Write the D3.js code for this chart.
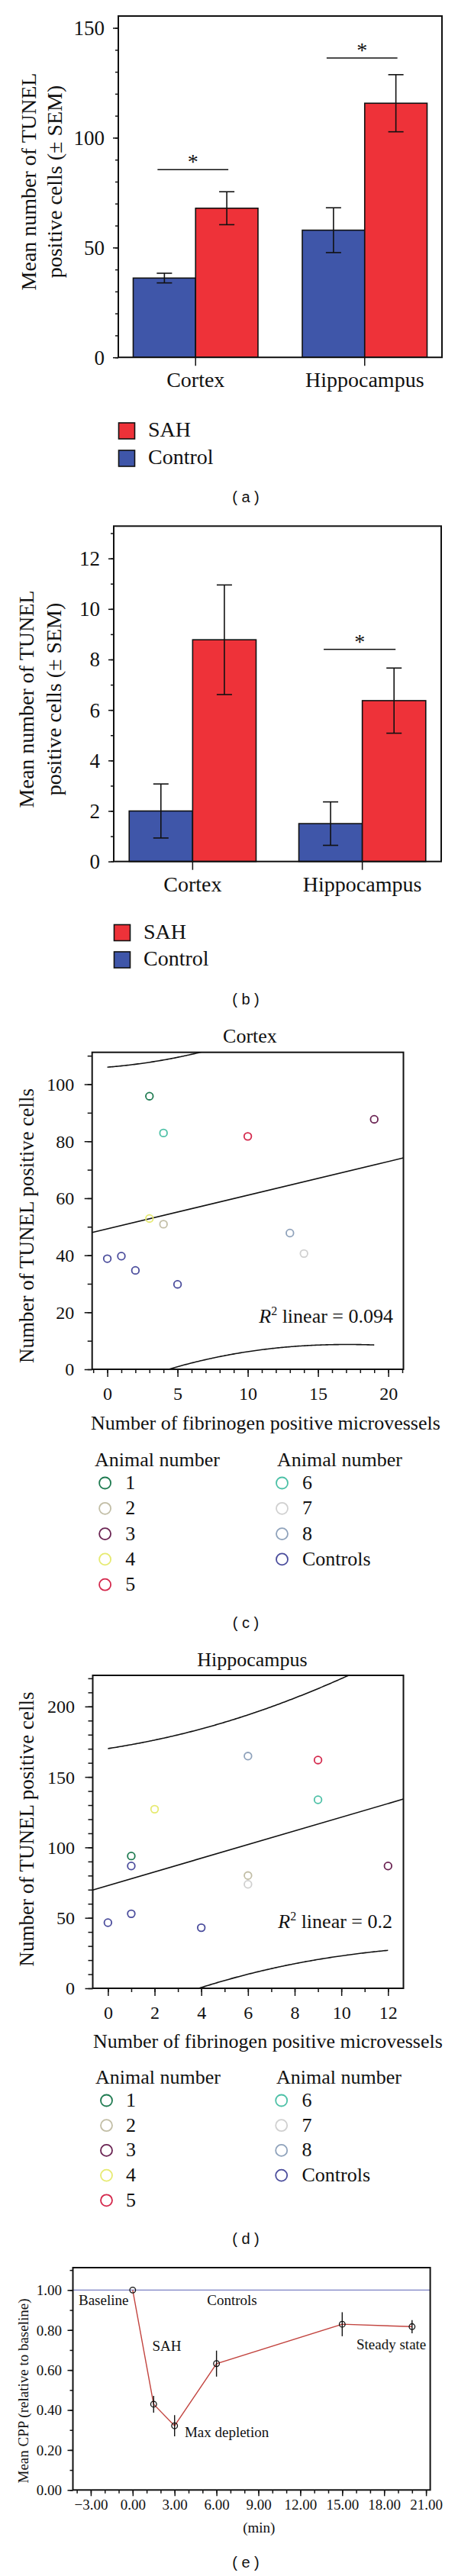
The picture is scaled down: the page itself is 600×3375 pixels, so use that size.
<!DOCTYPE html>
<html><head><meta charset="utf-8">
<script src="https://cdn.jsdelivr.net/npm/d3@7"></script>
<style>
body{margin:0;background:#fff}
svg{display:block}
text{font-family:"Liberation Serif","Times New Roman",serif;fill:#111}
</style>
</head><body>
<svg id="fig" width="600" height="3375"></svg>
<script>
// ---------- DATA ----------
const barCategories = ["Cortex", "Hippocampus"];
const barSeries = ["Control", "SAH"];
const legendLabels = ["SAH", "Control"];
// panel (a)
const aControl = [36.1, 57.9];
const aControlErr = [2.2, 10.2];
const aSAH = [67.9, 115.7];
const aSAHErr = [7.5, 13.0];
const aSig = [85.5, 136.3];
const aYTicks = [0, 50, 100, 150];
// panel (b)
const bControl = [2.0, 1.5];
const bControlErr = [1.07, 0.86];
const bSAH = [8.78, 6.37];
const bSAHErr = [2.17, 1.29];
const bSig = [null, 8.4];
const bYTicks = [0, 2, 4, 6, 8, 10, 12];
// panels (c),(d)
const animalLabels = ["1", "2", "3", "4", "5", "6", "7", "8", "Controls"];
const animalColors = ["#1e7a50", "#c2bea6", "#6a2352", "#e6ea70", "#d4284c", "#4cc0a6", "#d0d0d0", "#8fa2bb", "#4a4c9c"];
const cAnimal = ["1", "2", "3", "4", "5", "6", "7", "8", "Controls", "Controls", "Controls", "Controls"];
const cX = [3, 4, 19, 3, 10, 4, 14, 13, 0, 1, 2, 5];
const cY = [95.8, 50.9, 87.7, 52.9, 81.7, 82.9, 40.6, 47.8, 38.8, 39.7, 34.7, 29.8];
const cXTicks = [0, 5, 10, 15, 20];
const cYTicks = [0, 20, 40, 60, 80, 100];
const cR2 = "0.094";
const dAnimal = ["1", "2", "3", "4", "5", "6", "7", "8", "Controls", "Controls", "Controls", "Controls"];
const dX = [1, 6, 12, 2, 9, 9, 6, 6, 0, 1, 4, 1];
const dY = [93.9, 80.0, 86.8, 127.1, 162.0, 133.8, 73.8, 164.8, 46.6, 52.9, 43.0, 86.8];
const dXTicks = [0, 2, 4, 6, 8, 10, 12];
const dYTicks = [0, 50, 100, 150, 200];
const dR2 = "0.2";
const tCrit10 = 2.228; // t(0.975, df=10)
// panel (e)
const eTime = [0, 1.5, 3, 6, 15, 20];
const eCPP = [1.0, 0.429, 0.321, 0.632, 0.829, 0.817];
const eErr = [0, 0.042, 0.053, 0.065, 0.06, 0.033];
const eXTicks = [-3, 0, 3, 6, 9, 12, 15, 18, 21];
const eYTicks = [0, 0.2, 0.4, 0.6, 0.8, 1.0];
const eNotes = ["Baseline", "Controls", "SAH", "Max depletion", "Steady state"];
const captions = ["( a )", "( b )", "( c )", "( d )", "( e )"];

// ---------- DRAWING ----------
const svg = d3.select("#fig");
const INK = "#111";
const cControl = "#3f56a9", cSAH = "#ee3239";

function styleAxis(g, fs) {
  g.attr("font-family", null).attr("font-size", null);
  g.select(".domain").remove();
  g.selectAll("line").attr("stroke", INK).attr("stroke-width", 1.5);
  g.selectAll("text").style("font-size", fs + "px").attr("fill", INK);
}
function yAxis(scale, x, ticks, minor, len, mlen, fmt, fs, pad) {
  const gm = svg.append("g").attr("transform", `translate(${x},0)`)
    .call(d3.axisLeft(scale).tickValues(minor).tickSize(mlen).tickFormat(""));
  styleAxis(gm, fs);
  const g = svg.append("g").attr("transform", `translate(${x},0)`)
    .call(d3.axisLeft(scale).tickValues(ticks).tickSize(len).tickPadding(pad).tickFormat(fmt));
  styleAxis(g, fs);
  g.selectAll("text").attr("dy", "0.33em");
}
function xAxis(scale, y, ticks, minor, len, mlen, fmt, fs, pad) {
  if (minor) {
    const gm = svg.append("g").attr("transform", `translate(0,${y})`)
      .call(d3.axisBottom(scale).tickValues(minor).tickSize(mlen).tickFormat(""));
    styleAxis(gm, fs);
  }
  const g = svg.append("g").attr("transform", `translate(0,${y})`)
    .call(d3.axisBottom(scale).tickValues(ticks).tickSize(len).tickPadding(pad).tickFormat(fmt));
  styleAxis(g, fs);
  g.selectAll("text").attr("dy", "0.71em");
}
function frame(xs, ys) {
  const [x0, x1] = xs, [y0, y1] = [Math.min(...ys), Math.max(...ys)];
  svg.append("rect").attr("x", x0).attr("y", y0).attr("width", x1 - x0).attr("height", y1 - y0)
    .attr("fill", "none").attr("stroke", INK).attr("stroke-width", 2);
}
function yTitle(lines, baselines, yc, fs) {
  lines.forEach((t, i) => {
    svg.append("text").attr("transform", `translate(${baselines[i]},${yc}) rotate(-90)`)
      .attr("text-anchor", "middle").style("font-size", fs + "px").text(t);
  });
}
function caption(t, y) {
  svg.append("text").attr("x", 322).attr("y", y).attr("text-anchor", "middle")
    .style("font-family", "'Liberation Sans',Arial,sans-serif").style("font-size", "20px").text(t);
}
function range(a, b, s) { const r = []; for (let v = a; v <= b + 1e-9; v += s) r.push(+v.toFixed(4)); return r; }

// ----- bar panel -----
function barPanel(o) {
  const x = d3.scaleBand(barCategories, o.xr).paddingInner(o.pi).paddingOuter(o.po);
  const sub = d3.scaleBand(barSeries, [0, x.bandwidth()]);
  const y = d3.scaleLinear([0, o.ymax], o.yr);
  const vals = { Control: o.control, SAH: o.sah };
  const errs = { Control: o.controlErr, SAH: o.sahErr };
  const cols = { Control: cControl, SAH: cSAH };
  barSeries.forEach(s => {
    svg.append("g").selectAll("rect").data(barCategories).join("rect")
      .attr("x", c => x(c) + sub(s)).attr("width", sub.bandwidth())
      .attr("y", (c, i) => y(vals[s][i])).attr("height", (c, i) => y(0) - y(vals[s][i]))
      .attr("fill", cols[s]).attr("stroke", INK).attr("stroke-width", 1.6);
  });
  barSeries.forEach(s => {
    barCategories.forEach((c, i) => {
      const cx = x(c) + sub(s) + sub.bandwidth() / 2;
      const v = vals[s][i], e = errs[s][i];
      const g = svg.append("g").attr("stroke", INK).attr("stroke-width", 1.6);
      g.append("line").attr("x1", cx).attr("x2", cx).attr("y1", y(v - e)).attr("y2", y(v + e));
      [v - e, v + e].forEach(w => g.append("line").attr("x1", cx - 10).attr("x2", cx + 10).attr("y1", y(w)).attr("y2", y(w)));
    });
  });
  o.sig.forEach((h, i) => {
    if (h == null) return;
    const c = barCategories[i];
    const xa = x(c) + sub("Control") + sub.bandwidth() / 2 - 9;
    const xb = x(c) + sub("SAH") + sub.bandwidth() / 2 + 2;
    svg.append("line").attr("x1", xa).attr("x2", xb).attr("y1", y(h)).attr("y2", y(h))
      .attr("stroke", INK).attr("stroke-width", 1.5);
    svg.append("text").attr("x", (xa + xb) / 2).attr("y", y(h) - 1).attr("text-anchor", "middle")
      .style("font-size", "28px").text("*");
  });
  frame(o.xr, o.yr);
  yAxis(y, o.xr[0], o.yticks, range(0, o.ymax, o.minorStep), 7, 4, d3.format("d"), o.tickFs, 11);
  xAxis(x.copy().range(o.xr), o.yr[0], barCategories, null, 11, 0, d => d, 28, 8);
  // move category ticks to band centers
  yTitle(["Mean number of TUNEL", "positive cells (\u00B1 SEM)"], o.titleX, o.titleY, 28);
  // legend
  legendLabels.forEach((l, i) => {
    const yy = o.legY + i * o.legStep;
    svg.append("rect").attr("x", o.xr[0] + 0.5).attr("y", yy).attr("width", 21).attr("height", 21)
      .attr("fill", l === "SAH" ? cSAH : cControl).attr("stroke", INK).attr("stroke-width", 1.6);
    svg.append("text").attr("x", o.xr[0] + 39).attr("y", yy + 18).style("font-size", "28px").text(l);
  });
}

barPanel({ xr: [155, 579], yr: [468.2, 21], pi: 0.262, po: 0.088, ymax: 155.4, minorStep: 10,
  control: aControl, controlErr: aControlErr, sah: aSAH, sahErr: aSAHErr, sig: aSig,
  yticks: aYTicks, tickFs: 27, titleX: [47, 81], titleY: 238, legY: 554, legStep: 36 });
caption(captions[0], 658);

barPanel({ xr: [149, 578], yr: [1128.7, 689.3], pi: 0.252, po: 0.091, ymax: 13.28, minorStep: 1,
  control: bControl, controlErr: bControlErr, sah: bSAH, sahErr: bSAHErr, sig: bSig,
  yticks: bYTicks, tickFs: 27, titleX: [43.5, 79.5], titleY: 916, legY: 1211.5, legStep: 35.5 });
caption(captions[1], 1316);

// ----- scatter panel -----
function scatterPanel(o) {
  const x = d3.scaleLinear(o.xd, o.xr);
  const y = d3.scaleLinear(o.yd, o.yr);
  const color = d3.scaleOrdinal(animalLabels, animalColors);
  const clipId = "clip" + o.id;
  svg.append("clipPath").attr("id", clipId).append("rect")
    .attr("x", o.xr[0]).attr("y", o.yr[1]).attr("width", o.xr[1] - o.xr[0]).attr("height", o.yr[0] - o.yr[1]);
  // regression from data
  const n = o.xs.length, mx = d3.mean(o.xs), my = d3.mean(o.ys);
  const sxx = d3.sum(o.xs, v => (v - mx) ** 2);
  const sxy = d3.sum(o.xs, (v, i) => (v - mx) * (o.ys[i] - my));
  const b = sxy / sxx, a = my - b * mx;
  const sse = d3.sum(o.xs, (v, i) => (o.ys[i] - a - b * v) ** 2);
  const s = Math.sqrt(sse / (n - 2));
  const fit = v => a + b * v;
  const half = v => tCrit10 * s * Math.sqrt(1 + 1 / n + (v - mx) ** 2 / sxx);
  const g = svg.append("g").attr("clip-path", `url(#${clipId})`);
  g.append("line").attr("x1", x(o.xd[0])).attr("x2", x(o.xd[1]))
    .attr("y1", y(fit(o.xd[0]))).attr("y2", y(fit(o.xd[1])))
    .attr("stroke", INK).attr("stroke-width", 1.6);
  const grid = d3.range(0, 201).map(k => d3.min(o.xs) + (d3.max(o.xs) - d3.min(o.xs)) * k / 200);
  [1, -1].forEach(sg => {
    g.append("path").datum(grid)
      .attr("d", d3.line().x(v => x(v)).y(v => y(fit(v) + sg * half(v))))
      .attr("fill", "none").attr("stroke", INK).attr("stroke-width", 1.6);
  });
  svg.append("g").selectAll("circle").data(o.xs).join("circle")
    .attr("cx", v => x(v)).attr("cy", (v, i) => y(o.ys[i])).attr("r", 4.8)
    .attr("fill", "none").attr("stroke", (v, i) => color(o.an[i])).attr("stroke-width", 1.8);
  frame(o.xr, o.yr);
  yAxis(y, o.xr[0], o.yticks, range(0, o.yd[1], o.yminor), 10, 6, d3.format("d"), 24, 13.5);
  xAxis(x, o.yr[0], o.xticks, range(Math.ceil(o.xd[0]), o.xd[1], 1), 10, 5, d3.format("d"), 24, 13);
  // R2
  const t = svg.append("text").attr("x", o.r2x).attr("y", o.r2y).attr("text-anchor", "end").style("font-size", "26px");
  t.append("tspan").style("font-style", "italic").text("R");
  t.append("tspan").attr("dy", -10).style("font-size", "16px").text("2");
  t.append("tspan").attr("dy", 10).text(" linear = " + o.r2);
  // titles
  svg.append("text").attr("x", o.titleX).attr("y", o.titleY).attr("text-anchor", "middle").style("font-size", "26px").text(o.title);
  yTitle(["Number of TUNEL positive cells"], [43.5], o.ytY, 27);
  svg.append("text").attr("x", o.xlX).attr("y", o.xlY).style("font-size", "26px").text("Number of fibrinogen positive microvessels");
  // legend
  const cols = [animalLabels.slice(0, 5), animalLabels.slice(5)];
  cols.forEach((labs, ci) => {
    const lx = o.legX[ci];
    svg.append("text").attr("x", lx.head).attr("y", o.legY).style("font-size", "26px").text("Animal number");
    labs.forEach((l, ri) => {
      const by = o.legY + o.legRow0 + ri * o.legStep;
      svg.append("circle").attr("cx", lx.c).attr("cy", by - 8).attr("r", 7.5)
        .attr("fill", "none").attr("stroke", color(l)).attr("stroke-width", 1.8);
      svg.append("text").attr("x", lx.t).attr("y", by).style("font-size", "26px").text(l);
    });
  });
}

scatterPanel({ id: "c", xd: [-1.08, 21.08], xr: [120.7, 528.5], yd: [0, 111.2], yr: [1794, 1378.7],
  xs: cX, ys: cY, an: cAnimal, xticks: cXTicks, yticks: cYTicks, yminor: 10, r2: cR2, r2x: 515, r2y: 1733,
  title: "Cortex", titleX: 327.5, titleY: 1366, ytY: 1606, xlX: 119, xlY: 1873,
  legY: 1920.5, legRow0: 30.5, legStep: 33.3,
  legX: [{ head: 124, c: 137.6, t: 164.3 }, { head: 363, c: 369.5, t: 396 }] });
caption(captions[2], 2132.5);

scatterPanel({ id: "d", xd: [-0.65, 12.66], xr: [121.5, 528.5], yd: [0, 222.1], yr: [2605, 2195],
  xs: dX, ys: dY, an: dAnimal, xticks: dXTicks, yticks: dYTicks, yminor: 10, r2: dR2, r2x: 514, r2y: 2526,
  title: "Hippocampus", titleX: 330.5, titleY: 2183, ytY: 2396.5, xlX: 122, xlY: 2682.5,
  legY: 2730, legRow0: 30, legStep: 32.7,
  legX: [{ head: 125, c: 139.5, t: 165 }, { head: 362, c: 368.7, t: 395.5 }] });
caption(captions[3], 2940);

// ----- panel (e) -----
(function () {
  const x = d3.scaleLinear([-4.28, 21.3], [95.5, 563.6]);
  const y = d3.scaleLinear([0, 1.112], [3262.3, 2971]);
  svg.append("line").attr("x1", x(-4.28)).attr("x2", x(21.3)).attr("y1", y(1)).attr("y2", y(1))
    .attr("stroke", "#7a80c4").attr("stroke-width", 1.2);
  svg.append("path").datum(eTime)
    .attr("d", d3.line().x(v => x(v)).y((v, i) => y(eCPP[i])))
    .attr("fill", "none").attr("stroke", "#c2443f").attr("stroke-width", 1.4);
  const g = svg.append("g");
  eTime.forEach((t, i) => {
    if (eErr[i] > 0) g.append("line").attr("x1", x(t)).attr("x2", x(t))
      .attr("y1", y(eCPP[i] - eErr[i])).attr("y2", y(eCPP[i] + eErr[i])).attr("stroke", INK).attr("stroke-width", 1.4);
    g.append("circle").attr("cx", x(t)).attr("cy", y(eCPP[i])).attr("r", 3.8)
      .attr("fill", "none").attr("stroke", INK).attr("stroke-width", 1.3);
  });
  frame(x.range(), y.range());
  yAxis(y, 95.5, eYTicks, range(0, 1.1, 0.1), 7, 4, d3.format(".2f"), 19, 7.5);
  xAxis(x, 3262.3, eXTicks, range(-4, 21, 1), 8, 4.5, d3.format(".2f"), 19, 4.5);
  yTitle(["Mean CPP (relative to baseline)"], [37], 3132.5, 19);
  svg.append("text").attr("x", 339.3).attr("y", 3317.7).attr("text-anchor", "middle").style("font-size", "19px").text("(min)");
  const notePos = [[103, 3020], [271.3, 3020], [199.5, 3080], [241.9, 3192.7], [467, 3077.7]];
  eNotes.forEach((t, i) => svg.append("text").attr("x", notePos[i][0]).attr("y", notePos[i][1]).style("font-size", "19px").text(t));
})();
caption(captions[4], 3364);
</script>
</body></html>
